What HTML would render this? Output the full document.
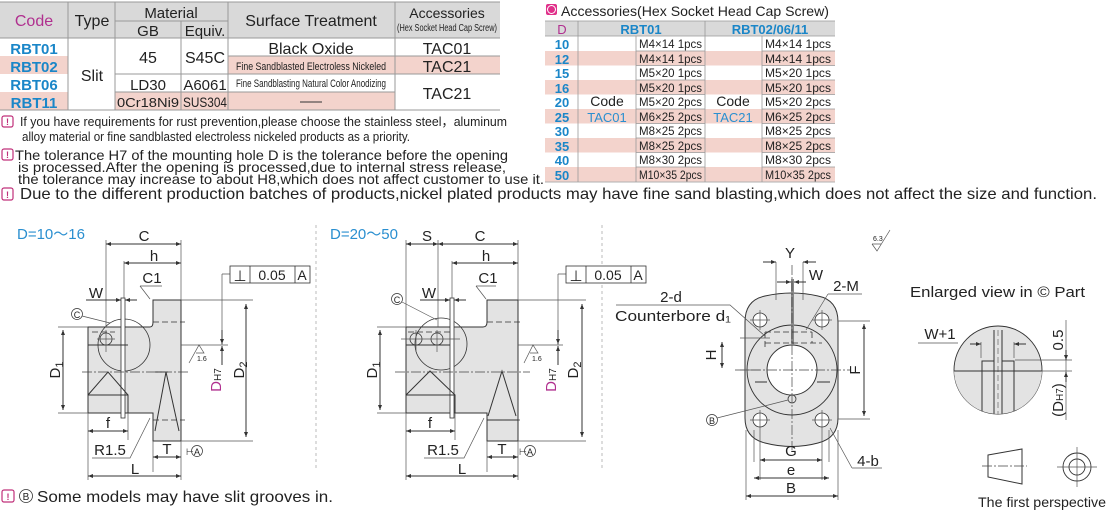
<!DOCTYPE html>
<html><head><meta charset="utf-8"><style>
html,body{margin:0;padding:0;background:#fff;width:1110px;height:513px;overflow:hidden}
svg{display:block}
text{font-family:"Liberation Sans",sans-serif;fill:#222}
.b{fill:#1a86c8;font-weight:bold}
.bl{fill:#2a8fd0}
.m{fill:#b0308f}
.ln{stroke:#333;stroke-width:1;fill:none}
.th{stroke:#555;stroke-width:0.7;fill:none}
.dash{stroke:#333;stroke-width:0.8;fill:none;stroke-dasharray:6 3}
.cl{stroke:#444;stroke-width:0.7;fill:none;stroke-dasharray:10 2 2 2}
.body{fill:#e3e3e3;stroke:#333;stroke-width:1}
.d{font-size:15px}
</style></head><body>
<svg width="1110" height="513" viewBox="0 0 1110 513" xmlns="http://www.w3.org/2000/svg">
<defs>
<marker id="a" viewBox="0 0 10 10" refX="10" refY="5" markerWidth="7" markerHeight="5" orient="auto-start-reverse"><path d="M0,1 L10,5 L0,9 z" fill="#333"/></marker>
</defs>
<!-- Left table -->
<rect x="0" y="2" width="500" height="36" fill="#d9d9d9"/>
<rect x="0" y="56" width="500" height="18" fill="#f3d3cc"/>
<rect x="0" y="92" width="500" height="18" fill="#f3d3cc"/>
<rect x="68" y="38" width="47" height="72" fill="#fff"/>
<rect x="115" y="38" width="113" height="36" fill="#fff"/>
<rect x="395" y="74" width="105" height="36" fill="#fff"/>
<g stroke="#999" stroke-width="1">
<line x1="0" y1="2" x2="500" y2="2"/><line x1="0" y1="38" x2="500" y2="38"/><line x1="0" y1="110" x2="500" y2="110"/>
<line x1="115" y1="21" x2="228" y2="21"/>
<line x1="228" y1="56" x2="500" y2="56"/><line x1="228" y1="74" x2="500" y2="74"/><line x1="228" y1="92" x2="395" y2="92"/>
<line x1="115" y1="74" x2="228" y2="74"/><line x1="115" y1="92" x2="228" y2="92"/>
<line x1="68" y1="2" x2="68" y2="110"/><line x1="115" y1="2" x2="115" y2="110"/><line x1="181" y1="21" x2="181" y2="110"/>
<line x1="228" y1="2" x2="228" y2="110"/><line x1="395" y1="2" x2="395" y2="110"/>
</g>
<text x="34" y="26" font-size="16" text-anchor="middle" class="m">Code</text>
<text x="92" y="26" font-size="16" text-anchor="middle">Type</text>
<text x="171" y="18" font-size="15" text-anchor="middle">Material</text>
<text x="148" y="36" font-size="15" text-anchor="middle">GB</text>
<text x="205" y="36" font-size="15" text-anchor="middle">Equiv.</text>
<text x="311" y="26" font-size="16" text-anchor="middle">Surface Treatment</text>
<text x="447" y="18" font-size="14" text-anchor="middle">Accessories</text>
<text x="447" y="31" font-size="10" text-anchor="middle" textLength="100" lengthAdjust="spacingAndGlyphs">(Hex Socket Head Cap Screw)</text>
<text x="34" y="54" font-size="15" text-anchor="middle" class="b">RBT01</text>
<text x="34" y="72" font-size="15" text-anchor="middle" class="b">RBT02</text>
<text x="34" y="90" font-size="15" text-anchor="middle" class="b">RBT06</text>
<text x="34" y="108" font-size="15" text-anchor="middle" class="b">RBT11</text>
<text x="92" y="81" font-size="16" text-anchor="middle">Slit</text>
<text x="148" y="63" font-size="16" text-anchor="middle">45</text>
<text x="205" y="63" font-size="16" text-anchor="middle">S45C</text>
<text x="148" y="90" font-size="15" text-anchor="middle">LD30</text>
<text x="205" y="90" font-size="15" text-anchor="middle">A6061</text>
<text x="148" y="107" font-size="13" text-anchor="middle" textLength="62" lengthAdjust="spacingAndGlyphs">0Cr18Ni9</text>
<text x="205" y="107" font-size="14" text-anchor="middle" textLength="44" lengthAdjust="spacingAndGlyphs">SUS304</text>
<text x="311" y="54" font-size="16" text-anchor="middle">Black  Oxide</text>
<text x="311" y="70" font-size="11" text-anchor="middle" textLength="150" lengthAdjust="spacingAndGlyphs">Fine Sandblasted Electroless Nickeled</text>
<text x="311" y="87" font-size="11" text-anchor="middle" textLength="150" lengthAdjust="spacingAndGlyphs">Fine Sandblasting Natural Color Anodizing</text>
<line x1="300" y1="102" x2="322" y2="102" stroke="#333"/>
<text x="447" y="54" font-size="16" text-anchor="middle">TAC01</text>
<text x="447" y="72" font-size="16" text-anchor="middle">TAC21</text>
<text x="447" y="99" font-size="16" text-anchor="middle">TAC21</text>

<!-- notes -->
<g font-size="13">
<rect x="2" y="116" width="11" height="11" rx="2" fill="none" stroke="#c0307a" stroke-width="1.2"/><text x="7.5" y="125" font-size="9" text-anchor="middle" style="fill:#c0307a;font-weight:bold">!</text>
<text x="20" y="126" textLength="487" lengthAdjust="spacingAndGlyphs">If you have requirements for rust prevention,please choose the stainless steel，aluminum</text>
<text x="22" y="141" textLength="388" lengthAdjust="spacingAndGlyphs">alloy material or fine sandblasted electroless nickeled products as a priority.</text>
<rect x="2" y="149" width="11" height="11" rx="2" fill="none" stroke="#c0307a" stroke-width="1.2"/><text x="7.5" y="158" font-size="9" text-anchor="middle" style="fill:#c0307a;font-weight:bold">!</text>
<text x="15" y="160" font-size="14" textLength="493" lengthAdjust="spacingAndGlyphs">The tolerance H7 of the mounting hole D is the tolerance before the opening</text>
<text x="18" y="172" font-size="14" textLength="488" lengthAdjust="spacingAndGlyphs">is processed.After the opening is processed,due to internal stress release,</text>
<text x="18" y="184" font-size="14" textLength="526" lengthAdjust="spacingAndGlyphs">the tolerance may increase to about H8,which does not affect customer to use it.</text>
<rect x="2" y="188" width="11" height="12" rx="2" fill="none" stroke="#c0307a" stroke-width="1.2"/><text x="7.5" y="198" font-size="9" text-anchor="middle" style="fill:#c0307a;font-weight:bold">!</text>
<text x="20" y="199" font-size="16" textLength="1077" lengthAdjust="spacingAndGlyphs">Due to the different production batches of products,nickel plated products may have fine sand blasting,which does not affect the size and function.</text>
</g>

<!-- right table -->
<rect x="546" y="4" width="11" height="11" rx="2" fill="#e0308a"/>
<circle cx="551.5" cy="9.5" r="4" fill="none" stroke="#fff" stroke-width="1"/>
<text x="561" y="16" font-size="14" textLength="268" lengthAdjust="spacingAndGlyphs">Accessories(Hex Socket Head Cap Screw)</text>
<rect x="545" y="21" width="290" height="15" fill="#d9d9d9"/>
<g fill="#f3d3cc">
<rect x="545" y="51" width="290" height="14.5"/><rect x="545" y="80" width="290" height="14.5"/><rect x="545" y="109" width="290" height="14.5"/><rect x="545" y="138" width="290" height="14.5"/><rect x="545" y="167" width="290" height="14.5"/>
</g>
<g stroke="#999" stroke-width="0.8">
<line x1="545" y1="21" x2="835" y2="21"/><line x1="545" y1="36" x2="835" y2="36"/><line x1="545" y1="182" x2="835" y2="182"/>
<line x1="578" y1="21" x2="578" y2="182"/><line x1="705" y1="21" x2="705" y2="182"/><line x1="636" y1="36" x2="636" y2="182"/><line x1="762" y1="36" x2="762" y2="182"/>
<line x1="636" y1="51" x2="705" y2="51"/><line x1="636" y1="65.5" x2="705" y2="65.5"/><line x1="636" y1="80" x2="705" y2="80"/><line x1="636" y1="94.5" x2="705" y2="94.5"/><line x1="636" y1="109" x2="705" y2="109"/><line x1="636" y1="123.5" x2="705" y2="123.5"/><line x1="636" y1="138" x2="705" y2="138"/><line x1="636" y1="152.5" x2="705" y2="152.5"/><line x1="636" y1="167" x2="705" y2="167"/>
<line x1="762" y1="51" x2="835" y2="51"/><line x1="762" y1="65.5" x2="835" y2="65.5"/><line x1="762" y1="80" x2="835" y2="80"/><line x1="762" y1="94.5" x2="835" y2="94.5"/><line x1="762" y1="109" x2="835" y2="109"/><line x1="762" y1="123.5" x2="835" y2="123.5"/><line x1="762" y1="138" x2="835" y2="138"/><line x1="762" y1="152.5" x2="835" y2="152.5"/><line x1="762" y1="167" x2="835" y2="167"/>
</g>
<text x="562" y="34" font-size="13" text-anchor="middle" class="m">D</text>
<text x="641" y="34" font-size="13" text-anchor="middle" class="b">RBT01</text>
<text x="770" y="34" font-size="13" text-anchor="middle" class="b">RBT02/06/11</text>
<g font-size="13" text-anchor="middle">
<text x="562" y="49" class="b">10</text><text x="562" y="64" class="b">12</text><text x="562" y="78" class="b">15</text><text x="562" y="93" class="b">16</text><text x="562" y="107" class="b">20</text><text x="562" y="122" class="b">25</text><text x="562" y="136" class="b">30</text><text x="562" y="151" class="b">35</text><text x="562" y="165" class="b">40</text><text x="562" y="180" class="b">50</text>
</g>
<text x="607" y="106" font-size="14" text-anchor="middle">Code</text>
<text x="607" y="122" font-size="13" text-anchor="middle" class="bl">TAC01</text>
<text x="733" y="106" font-size="14" text-anchor="middle">Code</text>
<text x="733" y="122" font-size="13" text-anchor="middle" class="bl">TAC21</text>
<g font-size="12">
<text x="639" y="48" textLength="63" lengthAdjust="spacingAndGlyphs">M4×14  1pcs</text><text x="765" y="48" textLength="66" lengthAdjust="spacingAndGlyphs">M4×14  1pcs</text>
<text x="639" y="63" textLength="63" lengthAdjust="spacingAndGlyphs">M4×14  1pcs</text><text x="765" y="63" textLength="66" lengthAdjust="spacingAndGlyphs">M4×14  1pcs</text>
<text x="639" y="77" textLength="63" lengthAdjust="spacingAndGlyphs">M5×20  1pcs</text><text x="765" y="77" textLength="66" lengthAdjust="spacingAndGlyphs">M5×20  1pcs</text>
<text x="639" y="92" textLength="63" lengthAdjust="spacingAndGlyphs">M5×20  1pcs</text><text x="765" y="92" textLength="66" lengthAdjust="spacingAndGlyphs">M5×20  1pcs</text>
<text x="639" y="106" textLength="63" lengthAdjust="spacingAndGlyphs">M5×20  2pcs</text><text x="765" y="106" textLength="66" lengthAdjust="spacingAndGlyphs">M5×20  2pcs</text>
<text x="639" y="121" textLength="63" lengthAdjust="spacingAndGlyphs">M6×25  2pcs</text><text x="765" y="121" textLength="66" lengthAdjust="spacingAndGlyphs">M6×25  2pcs</text>
<text x="639" y="135" textLength="63" lengthAdjust="spacingAndGlyphs">M8×25  2pcs</text><text x="765" y="135" textLength="66" lengthAdjust="spacingAndGlyphs">M8×25  2pcs</text>
<text x="639" y="150" textLength="63" lengthAdjust="spacingAndGlyphs">M8×25  2pcs</text><text x="765" y="150" textLength="66" lengthAdjust="spacingAndGlyphs">M8×25  2pcs</text>
<text x="639" y="164" textLength="63" lengthAdjust="spacingAndGlyphs">M8×30  2pcs</text><text x="765" y="164" textLength="66" lengthAdjust="spacingAndGlyphs">M8×30  2pcs</text>
<text x="639" y="179" textLength="63" lengthAdjust="spacingAndGlyphs">M10×35 2pcs</text><text x="765" y="179" textLength="66" lengthAdjust="spacingAndGlyphs">M10×35 2pcs</text>
</g>

<!-- separators -->
<line x1="316" y1="225" x2="316" y2="470" stroke="#bbb" stroke-dasharray="3 3"/>
<line x1="602" y1="225" x2="602" y2="470" stroke="#bbb" stroke-dasharray="3 3"/>

<!-- Drawing 1 -->
<g>
<text x="17" y="239" font-size="15" class="bl">D=10～16</text>
<path class="body" d="M88,327 H150 Q153,327 153,322 V300 H181 V441 H153 V413 H88 Z"/>
<circle cx="124" cy="345" r="26" fill="none" stroke="#333" stroke-width="0.8"/>
<rect x="121" y="298" width="4" height="120" fill="#fff" stroke="#333" stroke-width="0.8"/>
<path class="ln" d="M88,345 H128 M88,395 H128 V413 M88,395 L108,372 L128,395"/>
<path class="ln" d="M155,372 L168,372 M155,431 L166,372 L179,431"/>
<path class="dash" d="M153,322 H185 M153,420 H185 M92,332 H115"/>
<path class="cl" d="M82,372 H190"/>
<circle cx="106" cy="339" r="6" fill="none" stroke="#333" stroke-width="0.8"/>
<path class="th" d="M106,330 V352 M97,339 H115"/>
<path class="th" d="M106,240 V327 M181,240 V300 M124,261 V298 M88,413 V480 M181,441 V480 M128,413 V440 M153,441 V472"/>
<line x1="106" y1="244" x2="181" y2="244" class="ln" marker-start="url(#a)" marker-end="url(#a)"/>
<text x="144" y="241" class="d" text-anchor="middle">C</text>
<line x1="124" y1="263" x2="181" y2="263" class="ln" marker-start="url(#a)" marker-end="url(#a)"/>
<text x="154" y="261" class="d" text-anchor="middle">h</text>
<text x="96" y="298" class="d" text-anchor="middle">W</text>
<line x1="86" y1="300" x2="121" y2="300" class="ln" marker-end="url(#a)"/>
<line x1="137" y1="300" x2="125" y2="300" class="ln" marker-end="url(#a)"/>
<text x="152" y="283" class="d" text-anchor="middle">C1</text>
<path class="th" d="M140,286 H162 M140,286 L150,299"/>
<circle cx="77" cy="314" r="5.5" fill="none" stroke="#333" stroke-width="0.7"/><text x="77" y="318" font-size="9" text-anchor="middle">C</text>
<line x1="82" y1="316" x2="110" y2="323" class="th"/>
<path class="th" d="M58,327 H88 M58,413 H88"/>
<line x1="63" y1="330" x2="63" y2="410" class="ln" marker-start="url(#a)" marker-end="url(#a)"/>
<text x="60" y="370" class="d" transform="rotate(-90 60 370)" text-anchor="middle">D<tspan font-size="11" dy="3">1</tspan></text>
<line x1="88" y1="431" x2="128" y2="431" class="ln" marker-start="url(#a)" marker-end="url(#a)"/>
<text x="108" y="428" class="d" text-anchor="middle">f</text>
<text x="110" y="455" class="d" text-anchor="middle">R1.5</text>
<path class="th" d="M92,458 H130 L150,418"/>
<line x1="153" y1="457" x2="181" y2="457" class="ln" marker-start="url(#a)" marker-end="url(#a)"/>
<text x="167" y="454" class="d" text-anchor="middle">T</text>
<text x="186" y="455" font-size="9">⊢</text><circle cx="197" cy="451" r="5.5" fill="none" stroke="#333" stroke-width="0.7"/><text x="197" y="455" font-size="9" text-anchor="middle">A</text>
<line x1="88" y1="476" x2="181" y2="476" class="ln" marker-start="url(#a)" marker-end="url(#a)"/>
<text x="135" y="474" class="d" text-anchor="middle">L</text>
<path class="th" d="M181,300 H253 M181,441 H253 M181,345 H228"/>
<line x1="246" y1="304" x2="246" y2="437" class="ln" marker-start="url(#a)" marker-end="url(#a)"/>
<text x="244" y="370" class="d" transform="rotate(-90 244 370)" text-anchor="middle">D<tspan font-size="11" dy="3">2</tspan></text>
<path class="th" d="M222,274 V345 M222,274 H230"/>
<line x1="222" y1="330" x2="222" y2="344" class="ln" marker-end="url(#a)"/>
<line x1="222" y1="365" x2="222" y2="346" class="ln" marker-end="url(#a)"/>
<rect x="230" y="266" width="80" height="17" fill="#fff" stroke="#333" stroke-width="0.8"/>
<line x1="250" y1="266" x2="250" y2="283" stroke="#333" stroke-width="0.8"/><line x1="295" y1="266" x2="295" y2="283" stroke="#333" stroke-width="0.8"/>
<text x="240" y="281" font-size="15" text-anchor="middle">⊥</text><text x="272" y="280" font-size="14" text-anchor="middle">0.05</text><text x="302" y="280" font-size="14" text-anchor="middle">A</text>
<text x="221" y="380" class="d" transform="rotate(-90 221 380)" text-anchor="middle"><tspan class="m">D</tspan><tspan font-size="10">H7</tspan></text>
<path class="th" d="M189,363 L199,345 L204,353 H196"/><text x="197" y="361" font-size="7">1.6</text>
</g>

<!-- Drawing 2 -->
<g>
<text x="330" y="239" font-size="15" class="bl">D=20～50</text>
<path class="body" d="M406,327 H483 Q487,327 487,322 V300 H518 V441 H487 V413 H406 Z"/>
<circle cx="441" cy="344" r="26" fill="none" stroke="#333" stroke-width="0.8"/>
<rect x="450" y="298" width="4" height="120" fill="#fff" stroke="#333" stroke-width="0.8"/>
<path class="ln" d="M406,345 H450 M406,395 H455 V413 M406,395 L430,371 L455,395"/>
<path class="ln" d="M487,420 H518 M488,416 L502,371 L516,416"/>
<path class="dash" d="M487,322 H520 M487,420 H520 M408,332 H450"/>
<path class="cl" d="M395,372 H530"/>
<circle cx="416" cy="339" r="6" fill="none" stroke="#333" stroke-width="0.8"/>
<circle cx="437" cy="339" r="6" fill="none" stroke="#333" stroke-width="0.8"/>
<path class="th" d="M416,330 V352 M437,330 V352 M401,339 H460"/>
<path class="th" d="M406,240 V327 M438,240 V327 M518,240 V300 M452,261 V298 M406,413 V480 M518,441 V480 M455,413 V440 M487,441 V472"/>
<line x1="406" y1="244" x2="438" y2="244" class="ln" marker-start="url(#a)" marker-end="url(#a)"/>
<line x1="438" y1="244" x2="518" y2="244" class="ln" marker-start="url(#a)" marker-end="url(#a)"/>
<text x="427" y="241" class="d" text-anchor="middle">S</text>
<text x="480" y="241" class="d" text-anchor="middle">C</text>
<line x1="452" y1="263" x2="518" y2="263" class="ln" marker-start="url(#a)" marker-end="url(#a)"/>
<text x="486" y="261" class="d" text-anchor="middle">h</text>
<text x="429" y="298" class="d" text-anchor="middle">W</text>
<line x1="420" y1="300" x2="450" y2="300" class="ln" marker-end="url(#a)"/>
<line x1="466" y1="300" x2="454" y2="300" class="ln" marker-end="url(#a)"/>
<text x="488" y="283" class="d" text-anchor="middle">C1</text>
<path class="th" d="M476,286 H496 M476,286 L486,299"/>
<circle cx="397" cy="299" r="5.5" fill="none" stroke="#333" stroke-width="0.7"/><text x="397" y="303" font-size="9" text-anchor="middle">C</text>
<line x1="402" y1="302" x2="437" y2="320" class="th"/>
<path class="th" d="M377,327 H406 M377,413 H406"/>
<line x1="380" y1="330" x2="380" y2="410" class="ln" marker-start="url(#a)" marker-end="url(#a)"/>
<text x="377" y="370" class="d" transform="rotate(-90 377 370)" text-anchor="middle">D<tspan font-size="11" dy="3">1</tspan></text>
<line x1="406" y1="431" x2="455" y2="431" class="ln" marker-start="url(#a)" marker-end="url(#a)"/>
<text x="430" y="428" class="d" text-anchor="middle">f</text>
<text x="443" y="455" class="d" text-anchor="middle">R1.5</text>
<path class="th" d="M424,458 H464 L484,418"/>
<line x1="487" y1="457" x2="518" y2="457" class="ln" marker-start="url(#a)" marker-end="url(#a)"/>
<text x="502" y="454" class="d" text-anchor="middle">T</text>
<text x="519" y="455" font-size="9">⊢</text><circle cx="530" cy="451" r="5.5" fill="none" stroke="#333" stroke-width="0.7"/><text x="530" y="455" font-size="9" text-anchor="middle">A</text>
<line x1="406" y1="476" x2="518" y2="476" class="ln" marker-start="url(#a)" marker-end="url(#a)"/>
<text x="462" y="474" class="d" text-anchor="middle">L</text>
<path class="th" d="M518,300 H586 M518,441 H586 M518,345 H563"/>
<line x1="582" y1="304" x2="582" y2="437" class="ln" marker-start="url(#a)" marker-end="url(#a)"/>
<text x="578" y="370" class="d" transform="rotate(-90 578 370)" text-anchor="middle">D<tspan font-size="11" dy="3">2</tspan></text>
<path class="th" d="M558,274 V345 M558,274 H566"/>
<line x1="558" y1="330" x2="558" y2="344" class="ln" marker-end="url(#a)"/>
<line x1="558" y1="365" x2="558" y2="346" class="ln" marker-end="url(#a)"/>
<rect x="566" y="266" width="80" height="17" fill="#fff" stroke="#333" stroke-width="0.8"/>
<line x1="586" y1="266" x2="586" y2="283" stroke="#333" stroke-width="0.8"/><line x1="631" y1="266" x2="631" y2="283" stroke="#333" stroke-width="0.8"/>
<text x="576" y="281" font-size="15" text-anchor="middle">⊥</text><text x="608" y="280" font-size="14" text-anchor="middle">0.05</text><text x="638" y="280" font-size="14" text-anchor="middle">A</text>
<text x="556" y="380" class="d" transform="rotate(-90 556 380)" text-anchor="middle"><tspan class="m">D</tspan><tspan font-size="10">H7</tspan></text>
<path class="th" d="M524,363 L533,345 L538,353 H530"/><text x="532" y="361" font-size="7">1.6</text>
</g>

<!-- Drawing 3 flange -->
<g>
<path class="body" d="M745,322 Q745,300 765,296 Q792,290 818,296 Q838,300 838,322 V418 Q838,438 818,443 Q792,450 765,443 Q745,438 745,418 Z"/>
<circle cx="792" cy="370" r="45" fill="none" stroke="#333" stroke-width="0.9"/>
<circle cx="792" cy="370" r="25" fill="#fff" stroke="#333" stroke-width="1"/>
<path class="ln" d="M755,382 H767 M817,382 H830"/>
<circle cx="760" cy="320" r="7" fill="#fff" stroke="#333" stroke-width="0.8"/>
<circle cx="822" cy="320" r="7" fill="#fff" stroke="#333" stroke-width="0.8"/>
<circle cx="760" cy="420" r="7" fill="#fff" stroke="#333" stroke-width="0.8"/>
<circle cx="822" cy="420" r="7" fill="#fff" stroke="#333" stroke-width="0.8"/>
<path class="th" d="M750,320 H770 M760,310 V330 M812,320 H832 M822,310 V330 M750,420 H770 M760,410 V430 M812,420 H832 M822,410 V430"/>
<rect x="791" y="279" width="3" height="66" fill="#888"/>
<path class="dash" d="M765,332 H812 M765,343 H822 M765,332 V348 M812,332 V343"/>
<circle cx="792" cy="399" r="4" fill="none" stroke="#333" stroke-width="0.8"/>
<path class="cl" d="M792,265 V450 M735,370 H850"/>
<path class="th" d="M776,262 V300 M803,262 V300 M740,338 H770 M740,370 H760 M838,321 H870 M838,419 H870 M746,430 V500 M838,430 V500 M760,430 V480 M822,430 V480 M754,430 V462 M829,430 V462"/>
<line x1="763" y1="262" x2="776" y2="262" class="ln" marker-end="url(#a)"/>
<line x1="816" y1="262" x2="803" y2="262" class="ln" marker-end="url(#a)"/>
<text x="790" y="258" class="d" text-anchor="middle">Y</text>
<line x1="777" y1="282" x2="791" y2="282" class="ln" marker-end="url(#a)"/>
<line x1="806" y1="282" x2="794" y2="282" class="ln" marker-end="url(#a)"/>
<text x="816" y="280" class="d" text-anchor="middle">W</text>
<text x="846" y="291" class="d" text-anchor="middle">2-M</text>
<path class="th" d="M828,294 H862 M828,294 L806,330"/>
<text x="671" y="302" class="d" text-anchor="middle">2-d</text>
<text x="615" y="321" font-size="15" textLength="116" lengthAdjust="spacingAndGlyphs">Counterbore d₁</text>
<path class="th" d="M616,305 H730 L765,336"/>
<line x1="722" y1="342" x2="722" y2="368" class="ln" marker-start="url(#a)" marker-end="url(#a)"/>
<text x="716" y="355" class="d" transform="rotate(-90 716 355)" text-anchor="middle">H</text>
<line x1="864" y1="324" x2="864" y2="416" class="ln" marker-start="url(#a)" marker-end="url(#a)"/>
<text x="860" y="370" class="d" transform="rotate(-90 860 370)" text-anchor="middle">F</text>
<circle cx="712" cy="420" r="5.5" fill="none" stroke="#333" stroke-width="0.7"/><text x="712" y="424" font-size="9" text-anchor="middle">B</text>
<line x1="717" y1="418" x2="788" y2="400" class="th"/>
<line x1="760" y1="460" x2="822" y2="460" class="ln" marker-start="url(#a)" marker-end="url(#a)"/>
<text x="791" y="456" class="d" text-anchor="middle">G</text>
<line x1="754" y1="478" x2="829" y2="478" class="ln" marker-start="url(#a)" marker-end="url(#a)"/>
<text x="791" y="475" class="d" text-anchor="middle">e</text>
<line x1="746" y1="496" x2="838" y2="496" class="ln" marker-start="url(#a)" marker-end="url(#a)"/>
<text x="791" y="493" class="d" text-anchor="middle">B</text>
<text x="868" y="466" class="d" text-anchor="middle">4-b</text>
<path class="th" d="M852,468 H882 M852,468 L830,428"/>
<text x="873" y="241" font-size="7">6.3</text>
<path class="th" d="M872,244 L877,251 L890,230 M872,244 H881"/>
</g>

<!-- Enlarged view -->
<text x="910" y="297" font-size="15" textLength="175" lengthAdjust="spacingAndGlyphs">Enlarged view in © Part</text>
<defs><clipPath id="cc"><circle cx="998" cy="370" r="44"/></clipPath></defs>
<circle cx="998" cy="370" r="44" fill="#e3e3e3" stroke="#333" stroke-width="0.9"/>
<g clip-path="url(#cc)">
<rect x="940" y="371" width="120" height="50" fill="#e3e3e3"/>
<path class="ln" d="M954,371 H982 V361 H994 V330 M1042,371 H1014 V361 H1002 V330 M982,371 V420 M1014,371 V420 M994,361 V420 M1002,361 V420 M940,371 H1060"/>
<path class="dash" d="M998,330 V420" style="stroke-width:0.5"/>
</g>
<path class="th" d="M918,343 H958 M981,342 V358 M1014,342 V358"/>
<line x1="970" y1="344" x2="981" y2="344" class="ln" marker-end="url(#a)"/>
<line x1="1026" y1="344" x2="1014" y2="344" class="ln" marker-end="url(#a)"/>
<text x="940" y="339" font-size="15" text-anchor="middle">W+1</text>
<path class="th" d="M1015,360 H1072 M1042,371 H1072 M1066,320 V420"/>
<line x1="1066" y1="350" x2="1066" y2="360" class="ln" marker-end="url(#a)"/>
<line x1="1066" y1="382" x2="1066" y2="372" class="ln" marker-end="url(#a)"/>
<text x="1063" y="340" class="d" transform="rotate(-90 1063 340)" text-anchor="middle">0.5</text>
<text x="1063" y="400" class="d" transform="rotate(-90 1063 400)" text-anchor="middle">(D<tspan font-size="10">H7</tspan>)</text>

<!-- first perspective -->
<path class="ln" d="M988,455 L1022,449 V484 L988,477 Z"/>
<path class="cl" d="M982,466 H1027"/>
<circle cx="1077" cy="467" r="14" fill="none" stroke="#333" stroke-width="0.9"/>
<circle cx="1077" cy="467" r="8" fill="none" stroke="#333" stroke-width="0.9"/>
<path class="th" d="M1077,447 V487 M1057,467 H1097"/>
<text x="978" y="507" font-size="14" textLength="128" lengthAdjust="spacingAndGlyphs">The first perspective</text>

<!-- bottom note -->
<rect x="2" y="490" width="12" height="12" rx="2" fill="none" stroke="#c0307a" stroke-width="1.2"/><text x="8" y="500" font-size="9" text-anchor="middle" style="fill:#c0307a;font-weight:bold">!</text>
<circle cx="26" cy="496" r="6.5" fill="none" stroke="#333" stroke-width="0.8"/><text x="26" y="500" font-size="10" text-anchor="middle">B</text>
<text x="37" y="502" font-size="16" textLength="296" lengthAdjust="spacingAndGlyphs">Some models may have slit grooves in.</text>
</svg>
</body></html>
